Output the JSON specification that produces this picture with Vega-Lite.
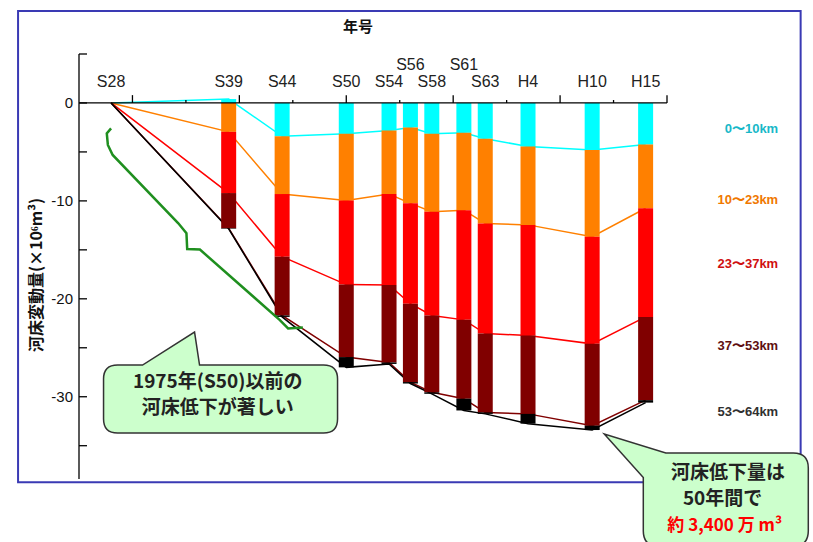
{
  "$schema": "https://vega.github.io/schema/vega-lite/v6.json",
  "width": 598,
  "height": 425,
  "autosize": {"type": "none"},
  "padding": {"left": 74, "top": 54, "right": 141, "bottom": 63},
  "background": "white",
  "config": {"view": {"stroke": null}, "font": "Liberation Sans"},
  "data": {"values": [{}]},
  "datasets": {
    "bars": [
      {"era": "S28", "year": 1953, "0〜10km": 0, "10〜23km": 0, "23〜37km": 0, "37〜53km": 0, "53〜64km": 0},
      {"era": "S39", "year": 1964, "0〜10km": 0.4, "10〜23km": -2.95, "23〜37km": -6.25, "37〜53km": -3.6, "53〜64km": -0.05},
      {"era": "S44", "year": 1969, "0〜10km": -3.4, "10〜23km": -5.9, "23〜37km": -6.4, "37〜53km": -6.0, "53〜64km": -0.15},
      {"era": "S50", "year": 1975, "0〜10km": -3.15, "10〜23km": -6.8, "23〜37km": -8.6, "37〜53km": -7.4, "53〜64km": -1.05},
      {"era": "S54", "year": 1979, "0〜10km": -2.8, "10〜23km": -6.5, "23〜37km": -9.3, "37〜53km": -7.9, "53〜64km": -0.15},
      {"era": "S56", "year": 1981, "0〜10km": -2.5, "10〜23km": -7.75, "23〜37km": -10.25, "37〜53km": -8.0, "53〜64km": -0.15},
      {"era": "S58", "year": 1983, "0〜10km": -3.15, "10〜23km": -7.95, "23〜37km": -10.6, "37〜53km": -7.85, "53〜64km": -0.15},
      {"era": "S61", "year": 1986, "0〜10km": -3.05, "10〜23km": -7.9, "23〜37km": -11.2, "37〜53km": -8.05, "53〜64km": -1.2},
      {"era": "S63", "year": 1988, "0〜10km": -3.65, "10〜23km": -8.65, "23〜37km": -11.25, "37〜53km": -8.05, "53〜64km": -0.15},
      {"era": "H4", "year": 1992, "0〜10km": -4.45, "10〜23km": -8.0, "23〜37km": -11.3, "37〜53km": -8.0, "53〜64km": -1.0},
      {"era": "H10", "year": 1998, "0〜10km": -4.8, "10〜23km": -8.85, "23〜37km": -10.95, "37〜53km": -8.35, "53〜64km": -0.45},
      {"era": "H15", "year": 2003, "0〜10km": -4.25, "10〜23km": -6.5, "23〜37km": -11.1, "37〜53km": -8.5, "53〜64km": -0.25}
    ],
    "brace": [
      {"i": 1, "yr": 1953.0, "v": -2.59},
      {"i": 2, "yr": 1952.6, "v": -3.1},
      {"i": 3, "yr": 1952.7, "v": -4.29},
      {"i": 4, "yr": 1953.15, "v": -5.31},
      {"i": 5, "yr": 1959.29, "v": -12.29},
      {"i": 6, "yr": 1960.05, "v": -13.31},
      {"i": 7, "yr": 1960.12, "v": -14.92},
      {"i": 8, "yr": 1961.31, "v": -14.97},
      {"i": 9, "yr": 1968.79, "v": -22.17},
      {"i": 10, "yr": 1969.56, "v": -23.02},
      {"i": 11, "yr": 1970.94, "v": -22.92}
    ],
    "majorTicks": [{"t": 1955}, {"t": 1965}, {"t": 1975}, {"t": 1985}, {"t": 1995}, {"t": 2005}],
    "minorTicks": [{"t": 1960}, {"t": 1970}, {"t": 1980}, {"t": 1990}, {"t": 2000}],
    "yTicks": [{"v": 5}, {"v": 0}, {"v": -5}, {"v": -10}, {"v": -15}, {"v": -20}, {"v": -25}, {"v": -30}, {"v": -35}],
    "yLabels": [{"v": 0, "label": "0"}, {"v": -10, "label": "-10"}, {"v": -20, "label": "-20"}, {"v": -30, "label": "-30"}]
  },
  "layer": [
    {
      "data": {"name": "bars"},
      "transform": [
        {"fold": ["0〜10km", "10〜23km", "23〜37km", "37〜53km", "53〜64km"], "as": ["seg", "v"]},
        {"stack": "v", "groupby": ["year"], "sort": [{"field": "seg", "order": "ascending"}], "as": ["v0", "v1"]}
      ],
      "mark": {"type": "line", "strokeWidth": 1.5},
      "encoding": {
        "x": {"field": "year", "type": "quantitative", "scale": {"domain": [1950, 2005], "nice": false, "zero": false}, "axis": null},
        "y": {"field": "v1", "type": "quantitative", "scale": {"domain": [-38.4, 5], "nice": false, "zero": false}, "axis": null},
        "color": {"field": "seg", "type": "nominal", "scale": {"domain": ["0〜10km", "10〜23km", "23〜37km", "37〜53km", "53〜64km"], "range": ["#00ffff", "#ff8000", "#ff0000", "#800000", "#000000"]}, "legend": null},
        "order": {"field": "year", "type": "quantitative"}
      }
    },
    {
      "mark": {"type": "rect", "fillOpacity": 0, "stroke": "#3a3ab4", "strokeWidth": 2},
      "encoding": {
        "x": {"datum": 1944.3, "type": "quantitative", "axis": null},
        "x2": {"datum": 2017.5},
        "y": {"datum": 9.39, "type": "quantitative", "axis": null},
        "y2": {"datum": -38.72}
      }
    },
    {
      "data": {"name": "bars"},
      "transform": [
        {"fold": ["0〜10km", "10〜23km", "23〜37km", "37〜53km", "53〜64km"], "as": ["seg", "v"]},
        {"stack": "v", "groupby": ["year"], "sort": [{"field": "seg", "order": "ascending"}], "as": ["v0", "v1"]}
      ],
      "mark": {"type": "bar", "size": 15},
      "encoding": {
        "x": {"field": "year", "type": "quantitative", "axis": null},
        "y": {"field": "v0", "type": "quantitative", "axis": null},
        "y2": {"field": "v1"},
        "color": {"field": "seg", "type": "nominal", "legend": null}
      }
    },
    {
      "mark": {"type": "rule", "color": "#000", "strokeWidth": 1.3},
      "encoding": {
        "x": {"datum": 1950, "type": "quantitative", "axis": null},
        "y": {"datum": 5, "type": "quantitative", "axis": null},
        "y2": {"datum": -38.4}
      }
    },
    {
      "data": {"name": "yTicks"},
      "mark": {"type": "rule", "color": "#000", "strokeWidth": 1.3},
      "encoding": {
        "x": {"datum": 1950, "type": "quantitative", "axis": null},
        "x2": {"datum": 1950.75},
        "y": {"field": "v", "type": "quantitative", "axis": null}
      }
    },
    {
      "data": {"name": "yLabels"},
      "mark": {"type": "text", "fontSize": 15, "color": "#111", "align": "right", "baseline": "middle", "dx": -6},
      "encoding": {
        "x": {"datum": 1950, "type": "quantitative", "axis": null},
        "y": {"field": "v", "type": "quantitative", "axis": null},
        "text": {"field": "label"}
      }
    },
    {
      "mark": {"type": "text", "text": "河床変動量(×10⁶m³)", "angle": 270, "font": "Noto Sans CJK JP", "fontSize": 16, "fontWeight": "bold", "color": "#111", "align": "center", "baseline": "middle"},
      "encoding": {"x": {"datum": 1946.05, "type": "quantitative", "axis": null}, "y": {"datum": -17.57, "type": "quantitative", "axis": null}}
    },
    {
      "mark": {"type": "rule", "color": "#000", "strokeWidth": 1.3},
      "encoding": {
        "x": {"datum": 1950, "type": "quantitative", "axis": null},
        "x2": {"datum": 2005},
        "y": {"datum": 0, "type": "quantitative", "axis": null}
      }
    },
    {
      "data": {"name": "majorTicks"},
      "mark": {"type": "rule", "color": "#000", "strokeWidth": 1.3},
      "encoding": {
        "x": {"field": "t", "type": "quantitative", "axis": null},
        "y": {"datum": 0, "type": "quantitative", "axis": null},
        "y2": {"datum": 0.8}
      }
    },
    {
      "data": {"name": "minorTicks"},
      "mark": {"type": "rule", "color": "#000", "strokeWidth": 1.3},
      "encoding": {
        "x": {"field": "t", "type": "quantitative", "axis": null},
        "y": {"datum": 0, "type": "quantitative", "axis": null},
        "y2": {"datum": 0.3}
      }
    },
    {
      "data": {"name": "bars"},
      "transform": [{"filter": "datum.era != 'S56' && datum.era != 'S61'"}],
      "mark": {"type": "text", "fontSize": 16, "color": "#222", "baseline": "middle", "align": "center"},
      "encoding": {
        "x": {"field": "year", "type": "quantitative", "axis": null},
        "y": {"datum": 2.14, "type": "quantitative", "axis": null},
        "text": {"field": "era"}
      }
    },
    {
      "data": {"name": "bars"},
      "transform": [{"filter": "datum.era == 'S56' || datum.era == 'S61'"}],
      "mark": {"type": "text", "fontSize": 16, "color": "#222", "baseline": "middle", "align": "center"},
      "encoding": {
        "x": {"field": "year", "type": "quantitative", "axis": null},
        "y": {"datum": 3.88, "type": "quantitative", "axis": null},
        "text": {"field": "era"}
      }
    },
    {
      "mark": {"type": "text", "text": "年号", "font": "Noto Sans CJK JP", "fontSize": 15, "fontWeight": "bold", "color": "#111", "baseline": "middle"},
      "encoding": {"x": {"datum": 1976.1, "type": "quantitative", "axis": null}, "y": {"datum": 7.71, "type": "quantitative", "axis": null}}
    },
    {
      "mark": {"type": "text", "text": "0〜10km", "fontSize": 13, "fontWeight": "bold", "color": "#18b8c8", "align": "right", "baseline": "middle"},
      "encoding": {"x": {"datum": 2015.4, "type": "quantitative", "axis": null}, "y": {"datum": -2.7, "type": "quantitative", "axis": null}}
    },
    {
      "mark": {"type": "text", "text": "10〜23km", "fontSize": 13, "fontWeight": "bold", "color": "#f07800", "align": "right", "baseline": "middle"},
      "encoding": {"x": {"datum": 2015.4, "type": "quantitative", "axis": null}, "y": {"datum": -9.9, "type": "quantitative", "axis": null}}
    },
    {
      "mark": {"type": "text", "text": "23〜37km", "fontSize": 13, "fontWeight": "bold", "color": "#d01010", "align": "right", "baseline": "middle"},
      "encoding": {"x": {"datum": 2015.4, "type": "quantitative", "axis": null}, "y": {"datum": -16.4, "type": "quantitative", "axis": null}}
    },
    {
      "mark": {"type": "text", "text": "37〜53km", "fontSize": 13, "fontWeight": "bold", "color": "#601010", "align": "right", "baseline": "middle"},
      "encoding": {"x": {"datum": 2015.4, "type": "quantitative", "axis": null}, "y": {"datum": -24.8, "type": "quantitative", "axis": null}}
    },
    {
      "mark": {"type": "text", "text": "53〜64km", "fontSize": 13, "fontWeight": "bold", "color": "#303030", "align": "right", "baseline": "middle"},
      "encoding": {"x": {"datum": 2015.4, "type": "quantitative", "axis": null}, "y": {"datum": -31.6, "type": "quantitative", "axis": null}}
    },
    {
      "data": {"name": "brace"},
      "mark": {"type": "line", "color": "#1f8f1f", "strokeWidth": 2.5},
      "encoding": {
        "x": {"field": "yr", "type": "quantitative", "axis": null},
        "y": {"field": "v", "type": "quantitative", "axis": null},
        "order": {"field": "i", "type": "quantitative"}
      }
    },
    {
      "mark": {"type": "point", "shape": "M -103 -34 L -78 -34 L -26 -67 L -21 -34 L 103 -34 Q 117 -34 117 -20 L 117 20 Q 117 34 103 34 L -103 34 Q -117 34 -117 20 L -117 -20 Q -117 -34 -103 -34 Z", "size": 4, "filled": true, "fill": "#ccffcc", "stroke": "#333", "strokeWidth": 1.5, "opacity": 1},
      "encoding": {"x": {"datum": 1963.24, "type": "quantitative", "axis": null}, "y": {"datum": -30.24, "type": "quantitative", "axis": null}}
    },
    {
      "mark": {"type": "text", "text": "1975年(S50)以前の", "font": "Noto Sans CJK JP", "fontSize": 19, "fontWeight": "bold", "color": "#222", "baseline": "middle"},
      "encoding": {"x": {"datum": 1962.97, "type": "quantitative", "axis": null}, "y": {"datum": -28.45, "type": "quantitative", "axis": null}}
    },
    {
      "mark": {"type": "text", "text": "河床低下が著しい", "font": "Noto Sans CJK JP", "fontSize": 19, "fontWeight": "bold", "color": "#222", "baseline": "middle"},
      "encoding": {"x": {"datum": 1962.97, "type": "quantitative", "axis": null}, "y": {"datum": -31.1, "type": "quantitative", "axis": null}}
    },
    {
      "mark": {"type": "point", "shape": "M -60 -46.5 L 67.5 -46.5 Q 82.5 -46.5 82.5 -31.5 L 82.5 31.5 Q 82.5 46.5 67.5 46.5 L -67.5 46.5 Q -82.5 46.5 -82.5 31.5 L -82.5 -22 L -121.5 -65.5 Z", "size": 4, "filled": true, "fill": "#ccffcc", "stroke": "#333", "strokeWidth": 1.5, "opacity": 1},
      "encoding": {"x": {"datum": 2010.5, "type": "quantitative", "axis": null}, "y": {"datum": -40.5, "type": "quantitative", "axis": null}}
    },
    {
      "mark": {"type": "text", "text": "河床低下量は", "font": "Noto Sans CJK JP", "fontSize": 19, "fontWeight": "bold", "color": "#222", "baseline": "middle"},
      "encoding": {"x": {"datum": 2010.7, "type": "quantitative", "axis": null}, "y": {"datum": -37.75, "type": "quantitative", "axis": null}}
    },
    {
      "mark": {"type": "text", "text": "50年間で", "font": "Noto Sans CJK JP", "fontSize": 19, "fontWeight": "bold", "color": "#222", "baseline": "middle"},
      "encoding": {"x": {"datum": 2010.2, "type": "quantitative", "axis": null}, "y": {"datum": -40.45, "type": "quantitative", "axis": null}}
    },
    {
      "mark": {"type": "text", "text": "約 3,400 万 m³", "font": "Noto Sans CJK JP", "fontSize": 17, "fontWeight": "bold", "color": "#ff0000", "baseline": "middle"},
      "encoding": {"x": {"datum": 2010.4, "type": "quantitative", "axis": null}, "y": {"datum": -43.2, "type": "quantitative", "axis": null}}
    }
  ]
}
